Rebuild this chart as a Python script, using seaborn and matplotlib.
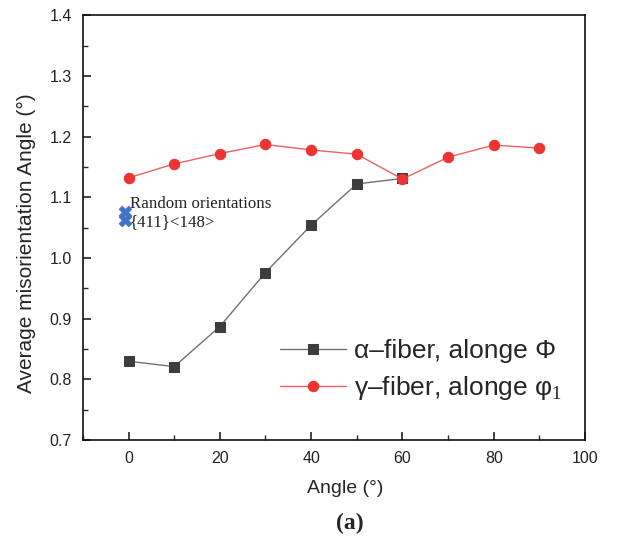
import numpy as np
import pandas as pd
import matplotlib
matplotlib.use("Agg")
import matplotlib.pyplot as plt
import seaborn as sns
from matplotlib.ticker import MultipleLocator

# Data
alpha_angle = [0, 10, 20, 30, 40, 50, 60]
alpha_val = [0.830, 0.821, 0.887, 0.976, 1.054, 1.122, 1.131]
gamma_angle = [0, 10, 20, 30, 40, 50, 60, 70, 80, 90]
gamma_val = [1.132, 1.155, 1.172, 1.187, 1.178, 1.171, 1.130, 1.166, 1.186, 1.181]
random_angle = [-0.8, -0.8]
random_val = [1.075, 1.062]
alpha_label = "α–fiber, alonge Φ"
gamma_label = "γ–fiber, alonge φ$_1$"
random_text = "Random orientations\n{411}<148>"

sns.set_style("ticks")
plt.rcParams['font.family'] = ['Liberation Sans', 'DejaVu Sans']
plt.rcParams['mathtext.fontset'] = 'custom'
plt.rcParams['mathtext.rm'] = 'Liberation Serif'

fig = plt.figure(figsize=(6.23, 5.42), dpi=100)
ax = fig.add_axes([0.133, 0.188, 0.806, 0.784])

df_a = pd.DataFrame({"Angle": alpha_angle, "Value": alpha_val})
df_g = pd.DataFrame({"Angle": gamma_angle, "Value": gamma_val})
df_r = pd.DataFrame({"Angle": random_angle, "Value": random_val})

sns.lineplot(data=df_a, x="Angle", y="Value", ax=ax, color="#707070", lw=1.0,
             marker="s", markersize=7, markerfacecolor="#3d3d3d",
             markeredgecolor="#3d3d3d", label=alpha_label)
sns.lineplot(data=df_g, x="Angle", y="Value", ax=ax, color="#f06060", lw=1.0,
             marker="o", markersize=7.5, markerfacecolor="#ee3333",
             markeredgecolor="#ee3333", label=gamma_label)
sns.scatterplot(data=df_r, x="Angle", y="Value", ax=ax, marker="X", s=85,
                color="#4472c4", edgecolor="#4472c4", linewidth=0.5, zorder=5,
                legend=False)

ax.text(0.3, 1.074, random_text, fontsize=12.2, family="Liberation Serif",
        va="center", ha="left", linespacing=1.1, color="#222222")

ax.set_xlim(-10, 100)
ax.set_ylim(0.7, 1.4)
ax.xaxis.set_major_locator(MultipleLocator(20))
ax.xaxis.set_minor_locator(MultipleLocator(10))
ax.yaxis.set_major_locator(MultipleLocator(0.1))
ax.yaxis.set_minor_locator(MultipleLocator(0.05))
ax.yaxis.set_major_formatter(matplotlib.ticker.FormatStrFormatter('%.1f'))
ax.tick_params(which='major', direction='in', length=6, width=1.2, labelsize=11.5,
               top=False, right=False, colors='#222222', pad=8)
ax.tick_params(which='minor', direction='in', length=3.5, width=1.0,
               top=False, right=False)
for s in ax.spines.values():
    s.set_visible(True)
    s.set_linewidth(1.2)
    s.set_color('#111111')

ax.set_xlabel("Angle (°)", fontsize=14)
ax.set_ylabel("Average misorientation Angle (°)", fontsize=15)
ax.xaxis.set_label_coords(0.522, -0.094)
ax.yaxis.set_label_coords(-0.094, 0.464)

leg = ax.legend(loc='lower right', bbox_to_anchor=(0.975, 0.065), frameon=False,
                fontsize=19, handlelength=2.5, handletextpad=0.3,
                labelspacing=0.42, borderaxespad=0.0)

fig.text(350/623, 1 - 523/542, "(a)", ha="center", va="center",
         fontsize=17, fontweight="bold", family="Liberation Serif")

fig.savefig("out.png", dpi=100)
